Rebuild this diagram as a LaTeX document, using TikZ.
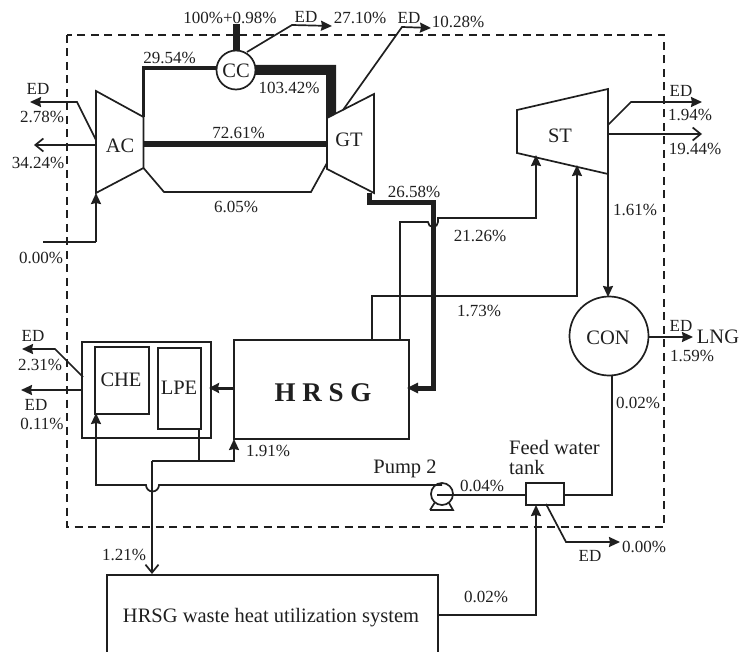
\documentclass[tikz,border=0pt]{standalone}
\usepackage{fontspec}
\setmainfont{Liberation Serif}
\usetikzlibrary{arrows.meta}
\definecolor{ink}{gray}{0.12}
\tikzset{
  x=1pt,y=-1pt,
  every node/.style={text=ink,font=\fontsize{17}{18}\selectfont,inner sep=0pt},
  ln/.style={draw=ink,line width=1.7pt,line join=miter},
  tip/.style={ln,-{Stealth[length=11pt,width=10pt,inset=1pt]}},
  opentip/.style={ln,-{Straight Barb[length=8pt,width=13pt,line width=1.7pt]}},
  lab/.style={anchor=center},
  big/.style={anchor=center,font=\fontsize{20.5}{22}\selectfont},
}
\begin{document}
\begin{tikzpicture}
\useasboundingbox (0,0) rectangle (739,652);
\draw[ln,dash pattern=on 8pt off 5.5pt,line width=1.3pt] (67,35) rectangle (664,527);

% named points
\coordinate (acT) at (96,91);\coordinate (acTR) at (143.5,117);\coordinate (acBR) at (143.5,168);\coordinate (acB) at (96,193);
\coordinate (gtT) at (374,94);\coordinate (gtTL) at (327,118);\coordinate (gtBL) at (327,169);\coordinate (gtB) at (374,193);

% components
\draw[ln] (acT)--(acTR)--(acBR)--(acB)--cycle;
\draw[ln] (gtT)--(gtTL)--(gtBL)--(gtB)--cycle;
\node[big] (ac) at (120,146) {AC};
\node[big] (gt) at (349,140) {GT};
\draw[ln] (517,110) coordinate (stA)--(608,89) coordinate (stB)--(608,174) coordinate (stC)--(517,153) coordinate (stD)--cycle;
\node[big] (st) at (560,136) {ST};

\node[ln,draw,circle,minimum size=39pt,fill=white] (cc) at (236,70) {};
\node[big] at (236,70.5) {CC};
\node[ln,draw,circle,minimum size=79pt] (con) at (609,336) {};
\node[big] at (608,338) {CON};

\node[ln,draw,minimum width=175pt,minimum height=99pt,anchor=north west] (hrsg) at (233,339) {};
\node[lab,font=\fontsize{27}{29}\selectfont\bfseries] at (323,393) {H R S G};
\node[ln,draw,minimum width=129pt,minimum height=96pt,anchor=north west] (outer) at (81,341) {};
\node[ln,draw,minimum width=54pt,minimum height=67pt,anchor=north west] (che) at (94,346) {};
\node[ln,draw,minimum width=43pt,minimum height=81pt,anchor=north west] (lpe) at (157,347) {};
\node[big] at (121,380) {CHE};
\node[big] at (179,388) {LPE};
\node[ln,draw,minimum width=38pt,minimum height=22pt,anchor=north west] (tank) at (525,482) {};

% bottom box, open at the page edge
\coordinate (wA) at (107,652);\coordinate (wB) at (107,575);\coordinate (wC) at (438,575);\coordinate (wD) at (438,652);
\draw[ln] (wA)--(wB)--(wC)--(wD);
\node[big] (waste) at (271,618) {HRSG waste heat utilization system};

% CC connections
\coordinate (fuelT) at (236,24);
\draw[ln,line width=7pt] (fuelT)--(236,51);
\coordinate (ccE) at (292,25);\coordinate (ccEnd) at (332,26);
\draw[tip] (247,52)--(ccE)--(ccEnd);
\coordinate (a) at (143.5,117);
\draw[ln,line width=3.4pt] (a)--(143.5,68)--(217,68);
\fill[ink] (255,65)--(336,65)--(336,113)--(326,119)--(326,75)--(255,75)--cycle;
\draw[ln,line width=5.5pt] (143.5,144)--(327,144);
\draw[ln] (acBR)--(164,192)--(311,192)--(327,163);

% GT ED
\coordinate (g1) at (343,110);\coordinate (g2) at (402,27);\coordinate (g3) at (431,28);
\draw[tip] (g1)--(g2)--(g3);

% AC ED and exits
\draw[tip] (96,140)--(77,102)--(30,102);
\draw[opentip] (96,145)--(34,145);
\draw[ln] (43,242)--(96,242);
\draw[tip,line width=2pt] (96,242)--(acB);

% exhaust
\draw[ln,line width=5pt] (369.5,193)--(369.5,203)--(433,203)--(433,388)--(418,388);
\fill[ink] (418,382.5)--(407,388)--(418,393.5)--cycle;

% steam lines
\draw[tip] (400,339)--(400,222)--(428,222) arc[start angle=180,end angle=0,radius=5] -- (438,218)--(536,218)--(536,155);
\draw[tip] (372,339)--(372,296)--(577,296)--(577,165);
\draw[tip] (stC)--(608,297);
\draw[opentip] (608,134)--(702,134);
\draw[tip] (608,125)--(631,102)--(702,102);
\draw[tip] (649,337)--(693,337);

% water
\draw[ln] (612,375)--(612,495)--(563,495);
\draw[ln] (525,495)--(437,495);
\node[ln,draw,circle,minimum size=22pt] (pump) at (442,494) {};
\draw[ln] (430,510)--(453,510)--(449,503) (430,510)--(434.5,503);
\draw[tip] (442,485)--(159,485) arc[start angle=0,end angle=180,radius=6.5]--(96,485)--(96,413);
\draw[opentip] (152,461)--(152,574);
\draw[tip] (152,461)--(234,461)--(234,439);
\draw[ln] (199,428)--(199,461);
\draw[ln,line width=3pt,-{Stealth[length=10pt,width=10pt,inset=1pt]}] (233,388)--(209,388);
\draw[tip] (83,377)--(55,349)--(22,349);
\draw[tip] (81,390)--(21,390);
\draw[tip] (438,615)--(536,615)--(536,505);
\draw[tip] (546,504)--(566,542)--(620,542);

% labels
\node[lab] at (230,18) {100\%+0.98\%};
\node[lab] at (306,17) {ED};
\node[lab] at (360,18) {27.10\%};
\node[lab] at (409,18) {ED};
\node[lab] at (458,22) {10.28\%};
\node[lab] at (169.5,58) {29.54\%};
\node[lab] at (289,88) {103.42\%};
\node[lab] at (238.5,133) {72.61\%};
\node[lab] at (236,207) {6.05\%};
\node[lab] at (38,89) {ED};
\node[lab] at (42,117) {2.78\%};
\node[lab] at (38,163) {34.24\%};
\node[lab] at (41,258) {0.00\%};
\node[lab] at (414,192) {26.58\%};
\node[lab] at (480,236) {21.26\%};
\node[lab] at (479,311) {1.73\%};
\node[lab] at (635,210) {1.61\%};
\node[lab] at (681,91) {ED};
\node[lab] at (690,115) {1.94\%};
\node[lab] at (695,149) {19.44\%};
\node[lab] at (681,326) {ED};
\node[big] at (718,337) {LNG};
\node[lab] at (692,356) {1.59\%};
\node[lab] at (638,403) {0.02\%};
\node[big,anchor=west] at (509,447) {Feed water};
\node[big,anchor=west] at (509,467) {tank};
\node[big] at (405,469) {Pump 2};
\node[lab] at (482,486) {0.04\%};
\node[lab] at (644,547) {0.00\%};
\node[lab] at (590,556) {ED};
\node[lab] at (486,597) {0.02\%};
\node[lab] at (124,555) {1.21\%};
\node[lab] at (268,451) {1.91\%};
\node[lab] at (33,336) {ED};
\node[lab] at (40,365) {2.31\%};
\node[lab] at (36,405) {ED};
\node[lab] at (42,424) {0.11\%};
\end{tikzpicture}
\end{document}
